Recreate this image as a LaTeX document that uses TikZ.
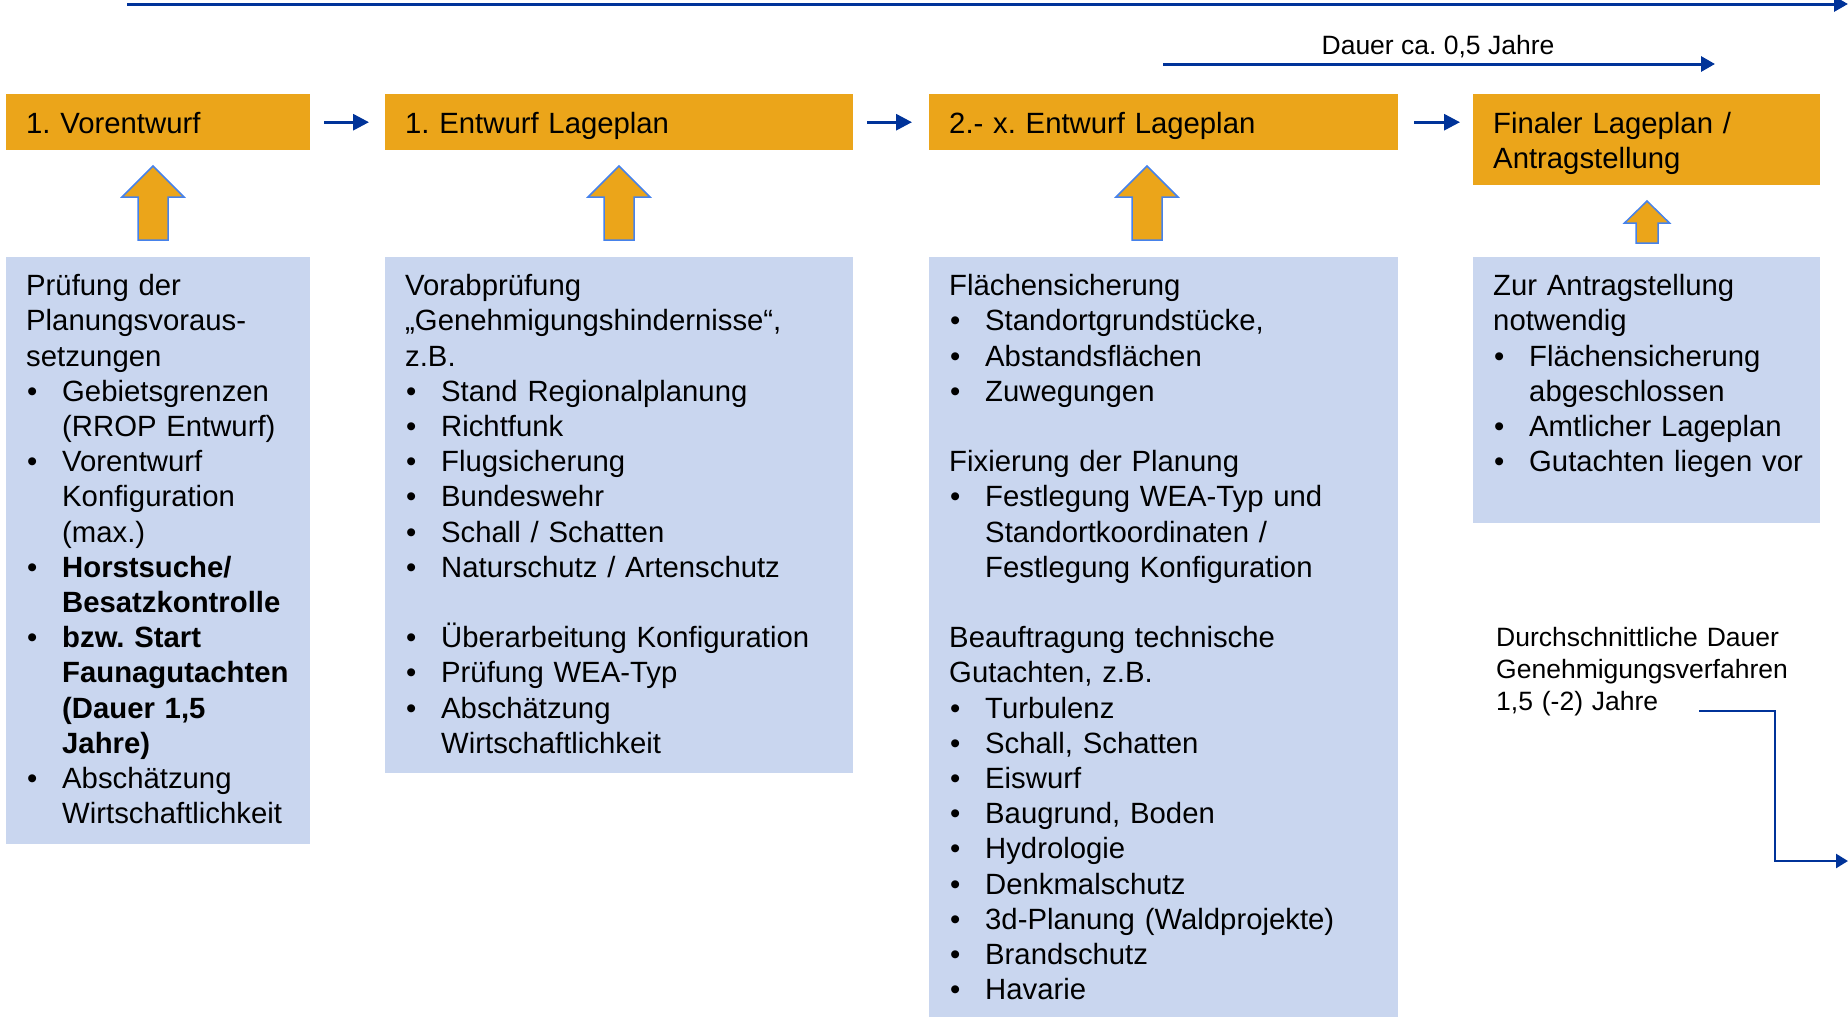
\documentclass[tikz,border=0pt]{standalone}
\usepackage{fontspec}
\setmainfont{Liberation Sans}
\usetikzlibrary{arrows.meta}
\definecolor{hdrorange}{RGB}{235,165,26}
\definecolor{boxblue}{RGB}{201,214,239}
\definecolor{arrblue}{RGB}{0,51,153}
\definecolor{outlineblue}{RGB}{70,130,235}
\newcommand\itm{\par\hangindent=36pt\hangafter=1\noindent\makebox[36pt][l]{\hspace{1pt}•}}
\newcommand\blankline{\par\vspace{35.2pt}}
\newcommand\hs{\rule[-6pt]{0pt}{34pt}}
\newcommand\UpArrow[6]{% x, ybottom, yhead, ytip, headhalf, shafthalf
 \draw[uparrst] ({#1-#6},#2) -- ({#1+#6},#2) -- ({#1+#6},#3) -- ({#1+#5},#3) -- (#1,#4) -- ({#1-#5},#3) -- ({#1-#6},#3) -- cycle;}
\frenchspacing
\begin{document}
\begin{tikzpicture}[x=1pt,y=-1pt,
 mainfont/.style={font=\fontsize{29.3}{35.2}\selectfont\frenchspacing},
 smallfont/.style={font=\fontsize{26.5}{31.8}\selectfont\frenchspacing},
 hdr/.style={mainfont, fill=hdrorange, anchor=north west, inner xsep=20pt, inner ysep=0pt, align=left},
 bbox/.style={fill=boxblue, anchor=north west, inner sep=0pt},
 btxt/.style={mainfont, anchor=north west, inner sep=0pt, text width=#1},
 harr/.style={draw=arrblue, line width=3pt, -{Triangle[length=16pt,width=16pt]}},
 tarr/.style={draw=arrblue, line width=3pt, -{Triangle[length=14pt,width=15pt]}},
 conn/.style={draw=arrblue, line width=2.5pt, -{Triangle[length=12pt,width=14pt]}},
 uparrst/.style={fill=hdrorange, draw=outlineblue, line width=1.5pt},
]
\useasboundingbox (0,0) rectangle (1848,1017);

% headers
\node[hdr, minimum width=304pt, minimum height=56pt, text width=264pt] (h1) at (6,94) {\hs 1. Vorentwurf};
\node[hdr, minimum width=468pt, minimum height=56pt, text width=428pt] (h2) at (385,94) {\hs 1. Entwurf Lageplan};
\node[hdr, minimum width=469pt, minimum height=56pt, text width=429pt] (h3) at (929,94) {\hs 2.- x. Entwurf Lageplan};
\node[hdr, minimum width=347pt, minimum height=91pt, text width=307pt] (h4) at (1473,94) {\hs Finaler Lageplan /\\\hs Antragstellung};

% arrows between headers
\draw[harr] ([xshift=14pt]h1.east) -- ([xshift=-16pt]h2.west);
\draw[harr] ([xshift=14pt]h2.east) -- ([xshift=-17pt]h3.west);
\draw[harr] ([xshift=16pt]h3.east) -- ([xshift=-13pt]h3.east -| h4.west);

% top timeline
\coordinate (tlA) at (127,4);
\coordinate (tlB) at (1848,4);
\draw[tarr] (tlA) -- (tlB);

% Dauer arrow
\coordinate (daA) at (1163,64);
\coordinate (daB) at (1715,64);
\draw[tarr] (daA) -- (daB);
\node[smallfont, inner sep=0pt] (dauer) at (1438,46.5) {Dauer ca. 0,5 Jahre};

% blue boxes
\node[bbox, minimum width=304pt, minimum height=587pt] (b1) at (6,257) {};
\node[bbox, minimum width=468pt, minimum height=516pt] (b2) at (385,257) {};
\node[bbox, minimum width=469pt, minimum height=770pt] (b3) at (929,257) {};
\node[bbox, minimum width=347pt, minimum height=266pt] (b4) at (1473,257) {};

% up arrows
\UpArrow{153}{240}{197}{166}{31}{15}
\UpArrow{619}{240}{197}{166}{31}{15}
\UpArrow{1147}{240}{197}{166}{31}{15}
\UpArrow{1647}{243}{223}{201}{22.5}{11}

% box texts
\node[btxt=284pt] (t1) at ([xshift=20pt,yshift=-14.5pt]b1.north west) {\raggedright\parindent=0pt\rule{0pt}{24pt}Prüfung der\newline Planungsvoraus-\newline setzungen
\itm Gebietsgrenzen\newline (RROP Entwurf)
\itm Vorentwurf\newline Konfiguration\newline (max.)
\itm \textbf{Horstsuche/}\newline \textbf{Besatzkontrolle}
\itm \textbf{bzw. Start}\newline \textbf{Faunagutachten}\newline \textbf{(Dauer 1,5}\newline \textbf{Jahre)}
\itm Abschätzung\newline Wirtschaftlichkeit\par};

\node[btxt=448pt] (t2) at ([xshift=20pt,yshift=-14.5pt]b2.north west) {\raggedright\parindent=0pt\rule{0pt}{24pt}Vorabprüfung\newline „Genehmigungshindernisse“,\newline z.B.
\itm Stand Regionalplanung
\itm Richtfunk
\itm Flugsicherung
\itm Bundeswehr
\itm Schall / Schatten
\itm Naturschutz / Artenschutz
\blankline
\itm Überarbeitung Konfiguration
\itm Prüfung WEA-Typ
\itm Abschätzung\newline Wirtschaftlichkeit\par};

\node[btxt=449pt] (t3) at ([xshift=20pt,yshift=-14.5pt]b3.north west) {\raggedright\parindent=0pt\rule{0pt}{24pt}Flächensicherung
\itm Standortgrundstücke,
\itm Abstandsflächen
\itm Zuwegungen
\blankline
\noindent Fixierung der Planung
\itm Festlegung WEA-Typ und\newline Standortkoordinaten /\newline Festlegung Konfiguration
\blankline
\noindent Beauftragung technische\newline Gutachten, z.B.
\itm Turbulenz
\itm Schall, Schatten
\itm Eiswurf
\itm Baugrund, Boden
\itm Hydrologie
\itm Denkmalschutz
\itm 3d-Planung (Waldprojekte)
\itm Brandschutz
\itm Havarie\par};

\node[btxt=327pt] (t4) at ([xshift=20pt,yshift=-14.5pt]b4.north west) {\raggedright\parindent=0pt\rule{0pt}{24pt}Zur Antragstellung\newline notwendig
\itm Flächensicherung\newline abgeschlossen
\itm Amtlicher Lageplan
\itm Gutachten liegen vor\par};

% Genehmigungsverfahren note
\node[smallfont, anchor=north west, inner sep=0pt, text width=320pt, align=left] (dd) at (1496,624.5) {\rule{0pt}{22pt}Durchschnittliche Dauer\\Genehmigungsverfahren\\1,5 (-2) Jahre};
\coordinate (ddA) at (1699,711);
\coordinate (ddB) at (1848,861);
\draw[conn] (ddA) -- ++(76,0) |- (ddB);
\end{tikzpicture}
\end{document}
